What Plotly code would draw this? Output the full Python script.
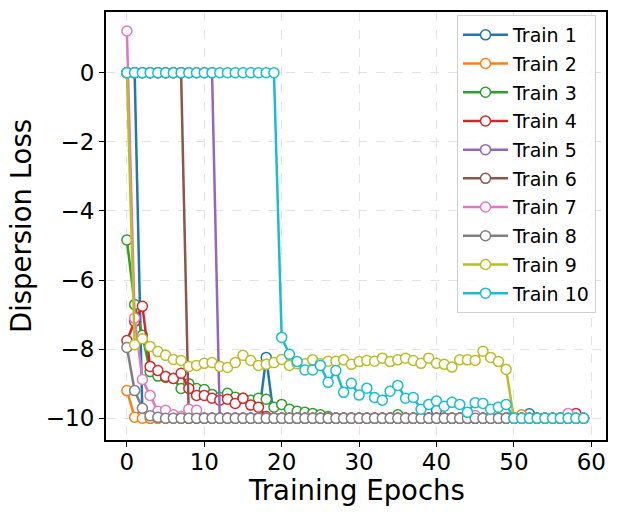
import plotly.graph_objects as go

epochs = list(range(60))

train1 = [0, 0, -9.9, -10, -10, -10, -10, -10, -10, -10,
          -10, -10, -10, -10, -10, -10, -10, -10, -8.24, -10,
          -10, -10, -10, -10, -10, -10, -10, -10, -10, -10,
          -10, -10, -10, -10, -10, -10, -10, -10, -10, -10,
          -9.77, -10, -10, -10, -10, -10, -10, -10, -10, -10,
          -10, -10, -9.87, -10, -10, -10, -10, -10, -10, -10]
train2 = [-9.2, -9.97, -10, -10, -10, -10, -10, -10, -10, -10,
          -10, -10, -10, -10, -10, -10, -10, -10, -10, -10,
          -10, -10, -10, -10, -10, -10, -10, -10, -10, -10,
          -10, -10, -10, -10, -10, -10, -10, -10, -10, -10,
          -10, -10, -10, -10, -10, -10, -10, -10, -10, -10,
          -10, -9.9, -10, -10, -10, -10, -10, -10, -10, -10]
train3 = [-4.84, -6.71, -7.6, -8.65, -8.78, -8.82, -8.85, -9.14, -9.0, -9.14,
          -9.17, -9.31, -9.4, -9.28, -9.39, -9.42, -9.48, -9.42, -9.45, -9.68,
          -9.6, -9.74, -9.8, -9.83, -9.86, -9.9, -9.95, -10, -10, -10,
          -10, -10, -10, -10, -10, -9.9, -10, -10, -10, -10,
          -10, -10, -10, -10, -10, -10, -10, -10, -10, -10,
          -10, -10, -10, -10, -10, -10, -10, -10, -10, -10]
train4 = [-7.75, -7.2, -6.76, -8.5, -8.62, -8.79, -8.85, -8.7, -9.14, -9.34,
          -9.34, -9.42, -9.48, -9.45, -9.57, -9.42, -9.62, -9.68, -9.95, -10,
          -10, -10, -10, -10, -10, -10, -10, -10, -10, -10,
          -10, -10, -10, -10, -10, -10, -10, -10, -10, -10,
          -10, -10, -10, -10, -10, -10, -10, -10, -10, -10,
          -10, -10, -10, -10, -10, -10, -10, -10, -9.86, -10]
train5 = [0, 0, 0, 0, 0, 0, 0, 0, 0, 0,
          0, 0, -10, -10, -10, -10, -10, -10, -10, -10,
          -10, -10, -10, -10, -10, -10, -10, -10, -10, -10,
          -10, -10, -10, -10, -10, -10, -10, -10, -10, -10,
          -10, -10, -10, -10, -10, -10, -10, -10, -10, -10,
          -10, -10, -10, -10, -10, -10, -10, -10, -10, -10]
train6 = [0, 0, 0, 0, 0, 0, 0, 0, -10, -10,
          -10, -10, -10, -10, -10, -10, -10, -10, -10, -10,
          -10, -10, -10, -10, -10, -10, -10, -10, -10, -10,
          -10, -10, -10, -10, -10, -10, -10, -10, -10, -10,
          -10, -10, -10, -10, -10, -10, -10, -10, -10, -10,
          -10, -10, -10, -10, -10, -10, -10, -10, -10, -10]
train7 = [1.21, -7.1, -8.88, -9.34, -9.8, -9.77, -9.9, -9.95, -9.74, -9.77,
          -10, -10, -10, -10, -10, -10, -10, -10, -10, -10,
          -10, -10, -10, -10, -10, -10, -10, -10, -10, -10,
          -10, -10, -10, -10, -10, -10, -10, -10, -10, -10,
          -10, -10, -10, -10, -10, -9.92, -10, -10, -10, -10,
          -10, -10, -10, -10, -10, -10, -10, -9.86, -10, -10]
train8 = [-7.95, -9.2, -9.71, -9.93, -9.97, -10, -10, -10, -10, -10,
          -10, -10, -10, -10, -10, -10, -10, -10, -10, -10,
          -10, -10, -10, -10, -10, -10, -10, -10, -10, -10,
          -10, -10, -10, -10, -10, -10, -10, -10, -10, -10,
          -10, -10, -10, -10, -10, -10, -10, -10, -10, -10,
          -10, -10, -10, -10, -10, -10, -10, -10, -10, -10]
train9 = [0, -7.87, -7.7, -7.92, -8.07, -8.18, -8.3, -8.33, -8.5, -8.47,
          -8.41, -8.39, -8.5, -8.53, -8.39, -8.18, -8.33, -8.47, -8.44, -8.39,
          -8.3, -8.47, -8.42, -8.42, -8.31, -8.42, -8.35, -8.35, -8.31, -8.44,
          -8.36, -8.33, -8.35, -8.26, -8.36, -8.31, -8.26, -8.33, -8.41, -8.26,
          -8.41, -8.44, -8.52, -8.31, -8.31, -8.33, -8.06, -8.24, -8.36, -8.59,
          -10, -10, -10, -10, -10, -10, -10, -10, -10, -10]
train10 = [0, 0, 0, 0, 0, 0, 0, 0, 0, 0,
           0, 0, 0, 0, 0, 0, 0, 0, 0, 0,
           -7.66, -8.15, -8.36, -8.6, -8.6, -8.47, -8.96, -8.62, -9.25, -8.99,
           -9.33, -9.13, -9.4, -9.48, -9.22, -9.05, -9.42, -9.4, -9.74, -9.6,
           -9.5, -9.65, -9.54, -9.6, -9.83, -9.55, -9.57, -9.74, -9.68, -9.6,
           -10, -10, -10, -10, -10, -10, -10, -10, -10, -10]

series = [train1, train2, train3, train4, train5, train6, train7, train8, train9, train10]
names = ["Train %d" % i for i in range(1, 11)]
colors = ["#1f77b4", "#ff7f0e", "#2ca02c", "#d62728", "#9467bd",
          "#8c564b", "#e377c2", "#7f7f7f", "#bcbd22", "#17becf"]
x_title = "Training Epochs"
y_title = "Dispersion Loss"

fig = go.Figure()
for i, (ys, nm, c) in enumerate(zip(series, names, colors)):
    fig.add_trace(go.Scatter(
        x=epochs, y=ys, name=nm, mode="lines+markers", legendgroup=nm,
        line=dict(color=c, width=2.5),
        marker=dict(symbol="circle", size=10, color="white",
                    line=dict(color=c, width=1.5)),
    ))

font_family = "DejaVu Sans"
axis_common = dict(
    showline=True, linecolor="black", linewidth=2, mirror=True,
    ticks="outside", ticklen=5, tickwidth=1.3, tickcolor="black",
    showgrid=True, gridcolor="#e3e3e3", griddash="dash", gridwidth=1,
    zeroline=False, tickfont=dict(family=font_family, size=23, color="black"),
)

fig.update_layout(
    width=618, height=515,
    margin=dict(l=106, r=10, t=10, b=75),
    plot_bgcolor="white", paper_bgcolor="white",
    font=dict(family=font_family, color="black"),
    xaxis=dict(range=[-2.7, 61.9], tickvals=[0, 10, 20, 30, 40, 50, 60],
               ticklabelstandoff=-5, **axis_common),
    yaxis=dict(range=[-10.63, 1.76], tickvals=[0, -2, -4, -6, -8, -10],
               title=dict(text=y_title, font=dict(size=27.5), standoff=6),
               **axis_common),
    legend=dict(x=0.98, y=0.993, xanchor="right", yanchor="top",
                bgcolor="rgba(255,255,255,0.8)", bordercolor="#d0d0d0", borderwidth=1,
                font=dict(family=font_family, size=19, color="black"),
                tracegroupgap=1, traceorder="grouped", itemwidth=45),
    annotations=[dict(text=x_title, xref="paper", yref="paper", x=0.5, y=0,
                      xanchor="center", yanchor="middle", yshift=-50, showarrow=False,
                      font=dict(family=font_family, size=27.5, color="black"))],
)

fig.write_html("out.html")
